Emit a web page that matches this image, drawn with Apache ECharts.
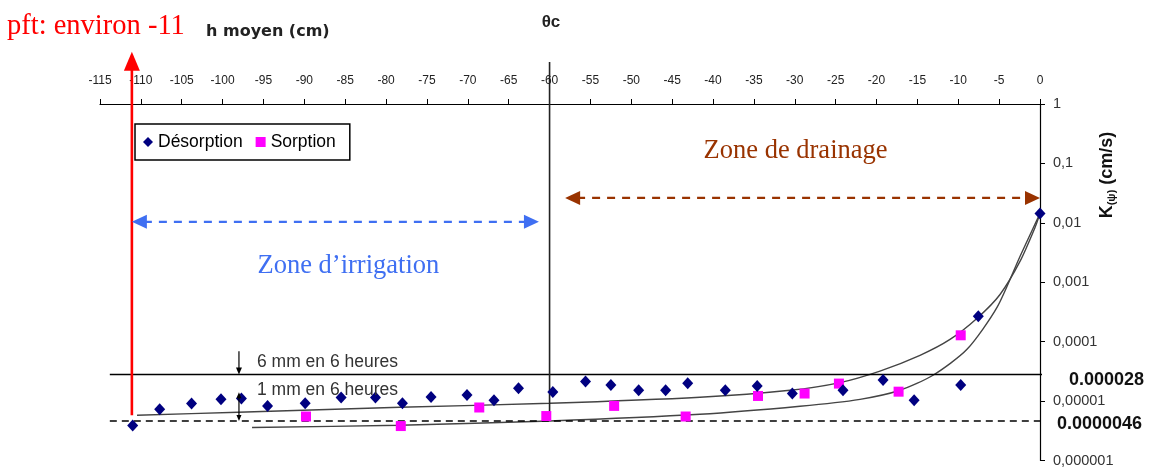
<!DOCTYPE html>
<html><head><meta charset="utf-8">
<script src="https://cdn.jsdelivr.net/npm/echarts@6/dist/echarts.min.js"></script>
<style>html,body{margin:0;padding:0;background:#fff}#c{width:1149px;height:468px}</style>
</head><body><div id="c"></div>
<script>
// ---- data ----
const xTickLabels = ['-115','-110','-105','-100','-95','-90','-85','-80','-75','-70','-65','-60','-55','-50','-45','-40','-35','-30','-25','-20','-15','-10','-5','0'];
const yTickValues = [1, 0.1, 0.01, 0.001, 0.0001, 0.00001, 0.000001];
const yTickLabels = ['1','0,1','0,01','0,001','0,0001','0,00001','0,000001'];

const desorptionH = [-111.0,-107.7,-103.8,-100.2,-97.7,-94.5,-89.9,-85.5,-81.3,-78.0,-74.5,-70.1,-66.8,-63.8,-59.6,-55.6,-52.5,-49.1,-45.8,-43.1,-38.5,-34.6,-30.3,-24.1,-19.2,-15.4,-9.7,-7.55,0];
const desorptionK = [3.9e-6,7.3e-6,9.1e-6,1.07e-5,1.10e-5,8.3e-6,9.2e-6,1.15e-5,1.15e-5,9.2e-6,1.17e-5,1.27e-5,1.03e-5,1.64e-5,1.42e-5,2.13e-5,1.87e-5,1.52e-5,1.52e-5,1.99e-5,1.52e-5,1.79e-5,1.34e-5,1.52e-5,2.26e-5,1.03e-5,1.87e-5,2.69e-4,0.0143];

const sorptionH = [-89.8,-78.2,-68.6,-60.4,-52.1,-43.35,-34.5,-28.8,-24.6,-17.3,-9.7];
const sorptionK = [5.5e-6,3.8e-6,7.8e-6,5.6e-6,8.3e-6,5.5e-6,1.22e-5,1.34e-5,1.97e-5,1.44e-5,1.28e-4];

const fitUpperH = [-110.47,-98.12,-78.30,-59.95,-41.60,-30.59,-24.47,-19.58,-14.68,-11.01,-7.59,-4.89,-2.45,-0.61,0];
const fitUpperK = [5.77e-6,6.49e-6,7.87e-6,9.18e-6,1.16e-5,1.52e-5,2.05e-5,3.2e-5,5.89e-5,1.09e-4,2.56e-4,6.23e-4,2.24e-3,8.34e-3,0.0143];
const fitLowerH = [-96.40,-78.30,-59.95,-41.60,-29.36,-22.02,-17.13,-13.09,-8.93,-5.26,-2.45,-0.86,0];
const fitLowerK = [3.59e-6,3.92e-6,4.63e-6,6.0e-6,8.18e-6,1.07e-5,1.52e-5,2.72e-5,7.43e-5,3.77e-4,2.72e-3,8.02e-3,0.0143];

const K6mm = 0.000028, K1mm = 0.0000046;
const K6mmLabel = '0.000028', K1mmLabel = '0.0000046';
const thetaC = -60;
const pftH = -111.1;
const irrigationZone = [-111.1, -61.3], irrigationK = 0.0104;
const drainageZone = [-58.1, 0], drainageK = 0.0263;
const noteH = -98;

const SANS = 'Arial, "Liberation Sans", sans-serif';
const SERIF = '"Times New Roman", "Liberation Serif", serif';

const zip = (a, b) => a.map((v, i) => [v, b[i]]);
const chart = echarts.init(document.getElementById('c'));

chart.setOption({
  animation: false,
  backgroundColor: '#fff',
  grid: { left: 100, right: 109, top: 104, bottom: 7 },
  legend: {
    left: 135, top: 124, orient: 'horizontal',
    data: [{ name: 'Désorption', icon: 'diamond' }, { name: 'Sorption', icon: 'rect' }],
    borderColor: '#000', borderWidth: 1.5, padding: [9, 14, 9, 8],
    itemWidth: 10, itemHeight: 10, itemGap: 13,
    textStyle: { fontFamily: SANS, fontSize: 17.5, color: '#000' }
  },
  xAxis: {
    type: 'value', position: 'top', min: -115, max: 0, interval: 5,
    axisLine: { lineStyle: { color: '#000', width: 1.2 } },
    axisTick: { inside: false, length: 5, lineStyle: { color: '#000' } },
    axisLabel: { fontFamily: SANS, fontSize: 12, color: '#222', margin: 17,
      formatter: v => xTickLabels[Math.round((v + 115) / 5)] },
    splitLine: { show: false }
  },
  yAxis: {
    type: 'log', position: 'right', min: 1e-6, max: 1, logBase: 10,
    axisLine: { show: true, lineStyle: { color: '#000', width: 1.2 } },
    axisTick: { show: true, inside: false, length: 5, lineStyle: { color: '#000' } },
    minorTick: { show: false },
    axisLabel: { fontFamily: SANS, fontSize: 14.5, color: '#333', margin: 13,
      formatter: v => { const e = Math.round(-Math.log10(v)); return yTickLabels[e] !== undefined ? yTickLabels[e] : ''; } },
    splitLine: { show: false }
  },
  series: [
    { name: 'fitUpper', type: 'line', data: zip(fitUpperH, fitUpperK), smooth: 0.25, showSymbol: false, symbol: 'none',
      lineStyle: { color: '#444', width: 1.4 }, z: 2, silent: true },
    { name: 'fitLower', type: 'line', data: zip(fitLowerH, fitLowerK), smooth: 0.25, showSymbol: false, symbol: 'none',
      lineStyle: { color: '#444', width: 1.4 }, z: 2, silent: true },
    { name: 'h6mm', type: 'line', data: [[-113.8, K6mm], [1, K6mm]], symbol: 'none', clip: false,
      lineStyle: { color: '#000', width: 1.5 }, z: 2, silent: true },
    { name: 'h1mm', type: 'line', data: [[-113.8, K1mm], [1, K1mm]], symbol: 'none', clip: false,
      lineStyle: { color: '#000', width: 1.5, type: [7, 5] }, z: 2, silent: true },
    { name: 'thetaC', type: 'line', data: [[thetaC, 5.1], [thetaC, K1mm]], symbol: 'none', clip: false,
      lineStyle: { color: '#222', width: 1.6 }, z: 2, silent: true },
    { name: 'Désorption', type: 'scatter', data: zip(desorptionH, desorptionK), symbol: 'diamond', symbolSize: [11, 12],
      itemStyle: { color: '#000080', opacity: 1 }, z: 5 },
    { name: 'Sorption', type: 'scatter', data: zip(sorptionH, sorptionK), symbol: 'rect', symbolSize: 10,
      itemStyle: { color: '#ff00ff', opacity: 1 }, z: 4 }
  ]
});

// ---- annotations positioned through the axes ----
const P = (x, y) => chart.convertToPixel({ gridIndex: 0 }, [x, y]);
function arrow(p1, p2, color, width, dash, startHead, endHead, hl, hw) {
  const els = [];
  const dx = p2[0] - p1[0], dy = p2[1] - p1[1], L = Math.hypot(dx, dy), ux = dx / L, uy = dy / L;
  const a = startHead ? [p1[0] + ux * hl * 0.8, p1[1] + uy * hl * 0.8] : p1;
  const b = endHead ? [p2[0] - ux * hl * 0.8, p2[1] - uy * hl * 0.8] : p2;
  els.push({ type: 'line', shape: { x1: a[0], y1: a[1], x2: b[0], y2: b[1] },
    style: { stroke: color, lineWidth: width, lineDash: dash || null }, z: 10 });
  const head = (tip, dirx, diry) => {
    const bx = tip[0] - dirx * hl, by = tip[1] - diry * hl;
    return { type: 'polygon', shape: { points: [tip, [bx - diry * hw / 2, by + dirx * hw / 2], [bx + diry * hw / 2, by - dirx * hw / 2]] },
      style: { fill: color }, z: 10 };
  };
  if (startHead) els.push(head(p1, -ux, -uy));
  if (endHead) els.push(head(p2, ux, uy));
  return els;
}
const g = [];
g.push(...arrow(P(pftH, 5.77e-6), P(pftH, 7.57), '#ff0000', 2.6, null, false, true, 19, 16));
g.push(...arrow(P(irrigationZone[0], irrigationK), P(irrigationZone[1], irrigationK), '#3f6ff2', 2.2, [8, 7], true, true, 15, 14));
g.push(...arrow(P(drainageZone[0], drainageK), P(drainageZone[1], drainageK), '#993300', 2.2, [8, 7], true, true, 15, 14));
g.push(...arrow(P(noteH, 6.87e-5), P(noteH, K6mm), '#000', 1.2, null, false, true, 7, 6));
g.push(...arrow(P(noteH, 1.41e-5), P(noteH, K1mm), '#000', 1.2, null, true, true, 6, 5));

const irrC = P((irrigationZone[0] + irrigationZone[1]) / 2, irrigationK);
const drnC = P((drainageZone[0] + drainageZone[1]) / 2, drainageK);
const y6 = P(0, K6mm)[1], y1 = P(0, K1mm)[1];
const noteX = P(noteH, K6mm)[0];

g.push(
  { type: 'text', x: 7, y: 27, style: { text: 'pft: environ -11', font: '28.5px ' + SERIF, fill: '#ff0000', verticalAlign: 'middle' }, z: 11 },
  { type: 'text', x: 206, y: 32, style: { text: 'h moyen (cm)', font: 'bold 16px "DejaVu Sans", sans-serif', fill: '#222', verticalAlign: 'middle' }, z: 11 },
  { type: 'text', x: 551, y: 22, style: { text: 'θc', font: 'bold 17px ' + SANS, fill: '#222', align: 'center', verticalAlign: 'middle' }, z: 11 },
  { type: 'text', x: irrC[0] + 13, y: irrC[1] + 44, style: { text: 'Zone d\u2019irrigation', font: '26.5px ' + SERIF, fill: '#3f6ff2', align: 'center', verticalAlign: 'middle' }, z: 11 },
  { type: 'text', x: drnC[0] - 7, y: drnC[1] - 47, style: { text: 'Zone de drainage', font: '26.5px ' + SERIF, fill: '#993300', align: 'center', verticalAlign: 'middle' }, z: 11 },
  { type: 'text', x: noteX + 18, y: y6 - 12, style: { text: '6 mm en 6 heures', font: '17.5px ' + SANS, fill: '#333', verticalAlign: 'middle' }, z: 11 },
  { type: 'text', x: noteX + 18, y: y6 + 16, style: { text: '1 mm en 6 heures', font: '17.5px ' + SANS, fill: '#333', verticalAlign: 'middle' }, z: 11 },
  { type: 'text', x: 1069, y: y6 + 6, style: { text: K6mmLabel, font: 'bold 18px ' + SANS, fill: '#111', verticalAlign: 'middle' }, z: 11 },
  { type: 'text', x: 1057, y: y1 + 3, style: { text: K1mmLabel, font: 'bold 18px ' + SANS, fill: '#111', verticalAlign: 'middle' }, z: 11 },
  { type: 'text', x: 1107, y: 175, rotation: Math.PI / 2,
    style: { text: '{k|K}{s|(ψ)}{k| (cm/s)}', align: 'center', verticalAlign: 'middle',
      rich: { k: { font: 'bold 18px ' + SANS, fill: '#111' }, s: { font: 'bold 11px ' + SANS, fill: '#111', padding: [9, 0, 0, 0] } } }, z: 11 }
);
chart.setOption({ graphic: g });
</script></body></html>
